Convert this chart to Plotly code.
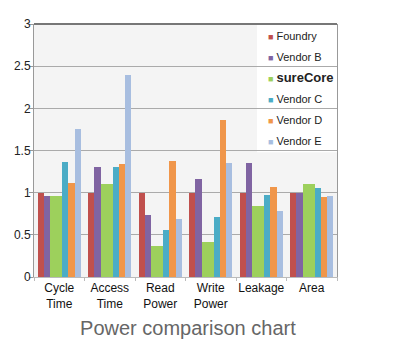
import plotly.graph_objects as go

categories = ["Cycle<br>Time", "Access<br>Time", "Read<br>Power", "Write<br>Power", "Leakage", "Area"]
series_names = ["Foundry", "Vendor B", "sureCore", "Vendor C", "Vendor D", "Vendor E"]
foundry = [1.0, 1.0, 1.0, 1.0, 1.0, 1.0]
vendor_b = [0.96, 1.31, 0.74, 1.16, 1.35, 1.0]
surecore = [0.96, 1.10, 0.37, 0.42, 0.84, 1.10]
vendor_c = [1.36, 1.31, 0.56, 0.71, 0.97, 1.05]
vendor_d = [1.12, 1.34, 1.37, 1.86, 1.07, 0.95]
vendor_e = [1.76, 2.40, 0.69, 1.35, 0.78, 0.96]
y_ticks = [0, 0.5, 1, 1.5, 2, 2.5, 3]
y_tick_labels = ["0", "0.5", "1", "1.5", "2", "2.5", "3"]

values = [foundry, vendor_b, surecore, vendor_c, vendor_d, vendor_e]
colors = ["#C0504D", "#8064A2", "#9DD05C", "#4BACC6", "#F0964A", "#A8BEE0"]
slot = 0.85 / 7
widths = [slot, slot, 2 * slot, slot, slot, slot]

fig = go.Figure()
offset = -0.425
for name, vals, col, w in zip(series_names, values, colors, widths):
    fig.add_trace(go.Bar(
        x=categories, y=vals, name=name, width=w, offset=offset,
        marker=dict(color=col, line=dict(width=0)),
        showlegend=False,
    ))
    offset += w

for i, (name, col) in enumerate(zip(series_names, colors)):
    label = f"<b>{name}</b>" if name == "sureCore" else name
    size = 13 if name == "sureCore" else 11
    text = (f"<span style='font-size:9px;color:{col}'>■</span> "
            f"<span style='font-size:{size}px'>{label}</span>")
    fig.add_trace(go.Scatter(
        x=[None], y=[None], mode="markers", name=text,
        marker=dict(symbol="square", size=1, color="rgba(0,0,0,0)"),
        legendgroup=f"g{i}", showlegend=True,
    ))

fig.update_layout(
    width=392, height=352,
    barmode="overlay",
    bargap=0,
    paper_bgcolor="white",
    plot_bgcolor="#F4F4F4",
    margin=dict(l=26, r=63, t=16, b=83, autoexpand=False),
    font=dict(family="Liberation Sans, Arial, sans-serif", size=12, color="#222"),
    showlegend=True,
    legend=dict(
        x=0.640, y=1.012, xanchor="left", yanchor="top",
        bgcolor="rgba(0,0,0,0)", borderwidth=0,
        font=dict(size=11, color="#222"),
        tracegroupgap=2,
    ),
    title=dict(
        text="Power comparison chart",
        x=0.508, xref="paper", xanchor="center",
        y=1 - 320 / 352, yref="container", yanchor="middle",
        font=dict(size=20, color="#666"),
    ),
    xaxis=dict(
        type="category", automargin=False, tickangle=0,
        showline=True, linecolor="#BBBBBB", linewidth=1,
        ticks="outside", tickson="boundaries", ticklen=3, tickcolor="#BBBBBB",
        showgrid=False,
        tickfont=dict(size=12, color="#111"),
        range=[-0.5, 5.5],
    ),
    yaxis=dict(
        range=[0, 3], automargin=False,
        tickvals=y_ticks, ticktext=y_tick_labels,
        showgrid=True, gridcolor="#AAAAAA", gridwidth=1,
        showline=True, linecolor="#999999", linewidth=1, mirror=True,
        ticks="outside", ticklen=4, tickcolor="#999999",
        ticklabelstandoff=-4,
        tickfont=dict(size=12, color="#222"),
        zeroline=False,
    ),
    shapes=[
        dict(type="rect", xref="paper", yref="y", x0=(257 - 34) / 303, x1=1, y0=1.48, y1=3,
             fillcolor="white", line=dict(width=0), layer="between"),
        dict(type="line", xref="paper", yref="paper", x0=0, x1=1, y0=1, y1=1,
             line=dict(color="#777777", width=2)),
    ],
)

fig.write_html("out.html")
